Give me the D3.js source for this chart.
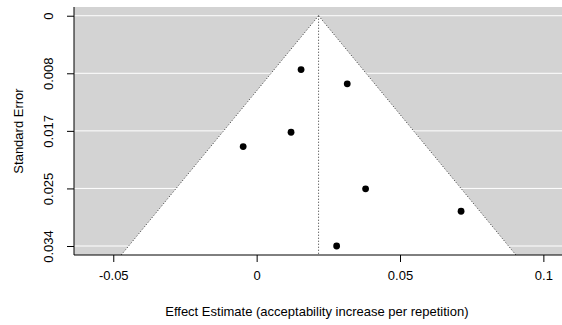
<!DOCTYPE html>
<html>
<head><meta charset="utf-8">
<style>
  body { margin: 0; background: #fff; }
  text { font-family: "Liberation Sans", Arial, sans-serif; fill: #000; }
</style>
</head>
<body>
<script src="https://d3js.org/d3.v7.min.js"></script>
<script>
// study estimates and standard errors
var estimates = [0.0155, 0.0316, 0.0120, -0.0047, 0.0380, 0.0279, 0.0713];
var stdErrors = [0.0079, 0.0100, 0.0171, 0.0192, 0.0254, 0.0338, 0.0287];
var pooled = 0.0216;
var seTicks = [0, 0.00845, 0.0169, 0.02535, 0.0338];
var seTickLabels = ["0", "0.008", "0.017", "0.025", "0.034"];
var xTicks = [-0.05, 0, 0.05, 0.1];
var xTickLabels = ["-0.05", "0", "0.05", "0.1"];

var width = 562, height = 325;
var margin = {top: 7, right: 0, bottom: 70, left: 74};
var w = width - margin.left - margin.right,
    h = height - margin.top - margin.bottom;

var svg = d3.select("body").append("svg")
    .attr("width", width)
    .attr("height", height);

var g = svg.append("g")
    .attr("transform", "translate(" + margin.left + "," + margin.top + ")");

var x = d3.scaleLinear().domain([-0.0637, 0.1065]).range([0, w]);
var y = d3.scaleLinear().domain([-0.00128, 0.03512]).range([0, h]);

var seMax = y.domain()[1];

// grey background
g.append("rect")
    .attr("width", w).attr("height", h)
    .attr("fill", "#d3d3d3");

// white reference lines at tick positions
g.selectAll(".hline")
  .data(seTicks)
  .enter().append("line")
    .attr("x1", 0).attr("x2", w)
    .attr("y1", d => y(d)).attr("y2", d => y(d))
    .attr("stroke", "#fff")
    .attr("stroke-width", 1);

// funnel region
var funnel = [[pooled, 0], [pooled + 1.96 * seMax, seMax], [pooled - 1.96 * seMax, seMax]];
g.append("path")
    .attr("d", "M" + funnel.map(p => x(p[0]) + "," + y(p[1])).join("L") + "Z")
    .attr("fill", "#fff");

// dotted funnel edges
[[funnel[0], funnel[1]], [funnel[0], funnel[2]]].forEach(function(seg) {
  g.append("line")
    .attr("x1", x(seg[0][0])).attr("y1", y(seg[0][1]))
    .attr("x2", x(seg[1][0])).attr("y2", y(seg[1][1]))
    .attr("stroke", "#333")
    .attr("stroke-width", 1)
    .attr("stroke-dasharray", "1,2");
});

// vertical line at pooled estimate
g.append("line")
    .attr("x1", x(pooled)).attr("x2", x(pooled))
    .attr("y1", y(0)).attr("y2", h)
    .attr("stroke", "#333")
    .attr("stroke-width", 1)
    .attr("stroke-dasharray", "1,2");

// points
g.selectAll(".pt")
  .data(estimates)
  .enter().append("circle")
    .attr("cx", d => x(d))
    .attr("cy", (d, i) => y(stdErrors[i]))
    .attr("r", 3.4)
    .attr("fill", "#000");

// axes
var yAxis = d3.axisLeft(y)
    .tickValues(seTicks)
    .tickFormat((d, i) => seTickLabels[i])
    .tickSize(7).tickSizeOuter(0);
var ya = g.append("g").call(yAxis);
ya.select(".domain").remove();
ya.selectAll("text")
    .attr("transform", "rotate(-90)")
    .attr("x", 0)
    .attr("y", -21)
    .attr("dy", "0")
    .attr("text-anchor", "middle")
    .style("font-size", "13px");

var xAxis = d3.axisBottom(x)
    .tickValues(xTicks)
    .tickFormat((d, i) => xTickLabels[i])
    .tickSize(7).tickSizeOuter(0).tickPadding(9);
var xa = g.append("g").attr("transform", "translate(0," + h + ")").call(xAxis);
xa.select(".domain").remove();
xa.selectAll("text").style("font-size", "13px");
svg.selectAll(".tick line").attr("stroke", "#000");

// left and bottom frame lines
g.append("line").attr("x1", 0).attr("x2", 0).attr("y1", 0).attr("y2", h)
    .attr("stroke", "#000");
g.append("line").attr("x1", 0).attr("x2", w).attr("y1", h).attr("y2", h)
    .attr("stroke", "#000");

// titles
svg.append("text")
    .attr("x", margin.left + x(0.021))
    .attr("y", 316)
    .attr("text-anchor", "middle")
    .style("font-size", "13px")
    .text("Effect Estimate (acceptability increase per repetition)");

svg.append("text")
    .attr("transform", "translate(23," + (margin.top + h / 2) + ") rotate(-90)")
    .attr("text-anchor", "middle")
    .style("font-size", "13px")
    .text("Standard Error");
</script>
</body>
</html>
